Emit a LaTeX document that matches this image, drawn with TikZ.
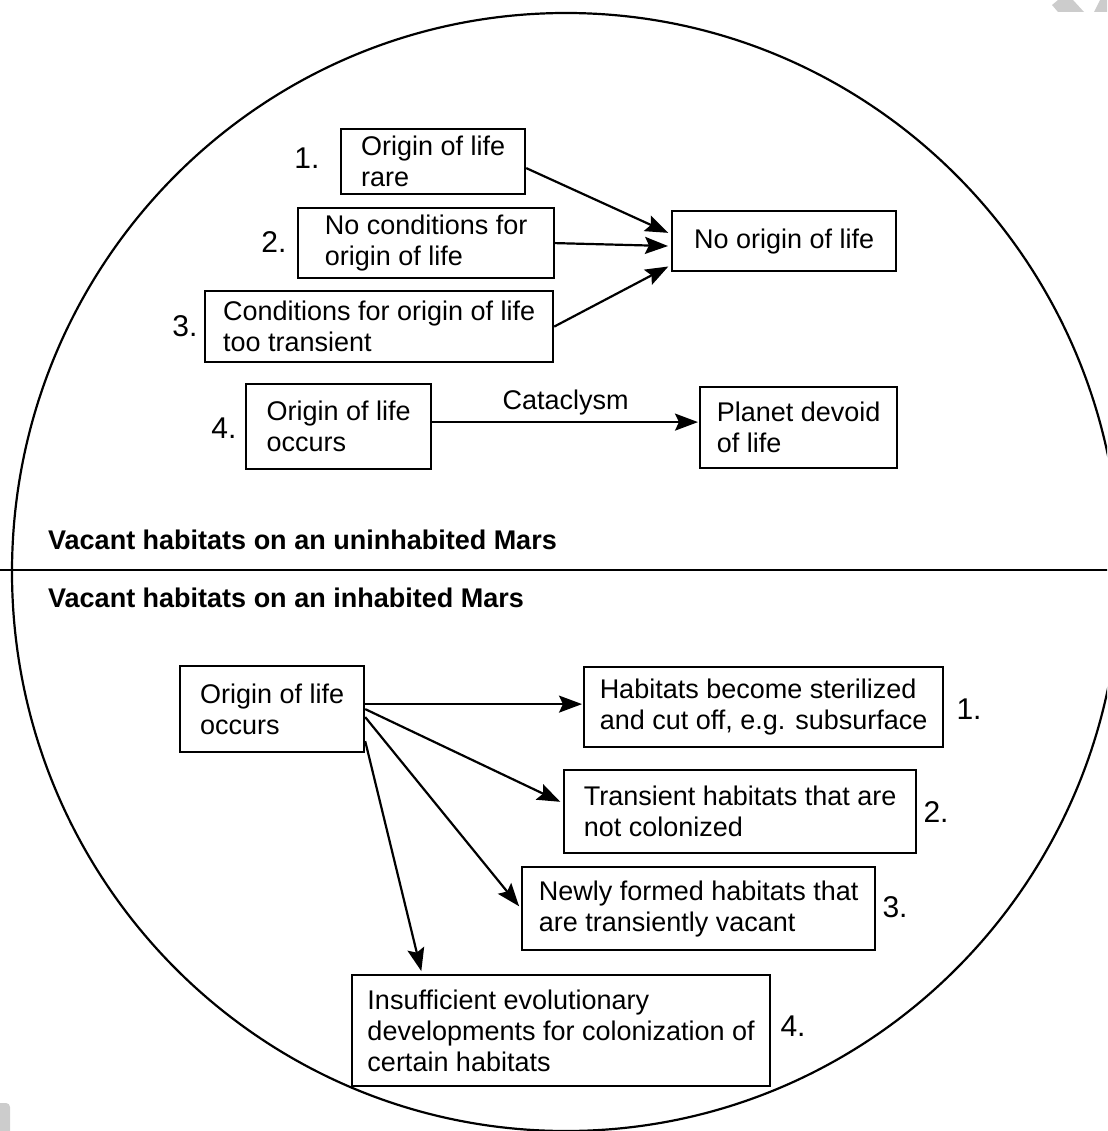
\documentclass[tikz,border=0pt]{standalone}
\usepackage{fontspec}
\setmainfont{Liberation Sans}
\usetikzlibrary{arrows.meta}
\newcommand{\habFont}[0]{\fontsize{27}{31}\selectfont}
\newcommand{\numFont}[0]{\fontsize{30}{34}\selectfont}

\begin{document}
\begin{tikzpicture}[x=1pt, y=-1pt, font=\habFont]
  \tikzset{
    box/.style={draw, line width=2.2pt, anchor=north west, align=left, inner sep=0pt},
    num/.style={inner sep=0pt, font=\numFont},
    heading/.style={anchor=west, inner sep=0pt, font=\habFont\bfseries},
    link/.style={line width=2.2pt, -{Stealth[length=23pt,width=17pt,inset=4pt]}, shorten >=3pt},
    rim/.style={line width=2.2pt},
    smudge/.style={fill=black!20, draw=none}
  }
  \useasboundingbox (0,0) rectangle (1107,1131);
  \clip (0,0) rectangle (1107,1131);
  \draw[rim] (566,572) ellipse [x radius=554pt, y radius=559pt];
  \draw[rim] (0,570) -- (1120,570);
  % page marks
  \fill[smudge] (1058,0) -- (1073,0) -- (1084,12) -- (1058,12) -- (1052,5) -- cycle;
  \fill[smudge] (1100,0) -- (1107,0) -- (1107,12) -- (1094,12) -- cycle;
  \fill[smudge, rounded corners=4pt] (-5,1103) -- (10,1103) -- (10,1140) -- (-5,1140) -- cycle;

  % uninhabited Mars
  \node[box, minimum width=184pt, minimum height=65pt] (U-1) at (340,128) {Origin of life\\rare};
  \node[box, minimum width=256pt, minimum height=70pt] (U-2) at (297,207) {No conditions for\\origin of life};
  \node[box, minimum width=348pt, minimum height=71pt] (U-3) at (204,290) {Conditions for origin of life\\too transient};
  \node[box, minimum width=224pt, minimum height=60pt] (U-none) at (671,210) {No origin of life};
  \node[box, minimum width=185pt, minimum height=85pt] (U-4) at (245,383) {Origin of life\\occurs};
  \node[box, minimum width=197pt, minimum height=81pt] (U-devoid) at (699,386) {Planet devoid\\of life};
  \node[num] (U-1-num) at (307,158) {1.};
  \node[num] (U-2-num) at (274,242) {2.};
  \node[num] (U-3-num) at (185,326) {3.};
  \node[num] (U-4-num) at (224,428) {4.};
  \draw[link] ([yshift=-6.5pt]U-1.east) -- ([yshift=7pt]U-none.west);
  \draw[link] (U-2.east) -- ([yshift=-5pt]U-none.west);
  \draw[link] (U-3.east) -- ([yshift=-24pt]U-none.west);
  \draw[link, shorten >=1pt] ([yshift=4.5pt]U-4.east) -- ([yshift=4.5pt]U-4.east -| U-devoid.west)
    node[midway, above=6pt, inner sep=0pt] (U-cataclysm) {Cataclysm};
  \node[heading] (U-title) at (48,539.5) {Vacant habitats on an uninhabited Mars};

  % inhabited Mars
  \node[heading] (I-title) at (48,597.5) {Vacant habitats on an inhabited Mars};
  \node[box, minimum width=184pt, minimum height=86pt] (I-origin) at (179,665) {Origin of life\\occurs};
  \node[box, minimum width=359pt, minimum height=80pt] (I-1) at (583,666) {Habitats become sterilized\\and cut off, e.g. subsurface};
  \node[box, minimum width=352pt, minimum height=83pt] (I-2) at (563,769) {Transient habitats that are\\not colonized};
  \node[box, minimum width=353pt, minimum height=83pt] (I-3) at (521,866) {Newly formed habitats that\\are transiently vacant};
  \node[box, minimum width=418pt, minimum height=111pt] (I-4) at (351,974) {Insufficient evolutionary\\developments for colonization of\\certain habitats};
  \node[num] (I-1-num) at (969,709) {1.};
  \node[num] (I-2-num) at (936,812) {2.};
  \node[num] (I-3-num) at (895,907) {3.};
  \node[num] (I-4-num) at (793,1026) {4.};
  \draw[link, shorten >=1pt] ([yshift=5pt]I-origin.east) -- ([yshift=5pt]I-origin.east -| I-1.west);
  \draw[link] (I-origin.east) -- ([yshift=8.5pt]I-2.west);
  \draw[link] ([yshift=-8pt]I-origin.east) -- (I-3.west);
  \draw[link] ([yshift=-32pt]I-origin.east) -- ([xshift=71pt]I-4.north west);
\end{tikzpicture}
\end{document}
